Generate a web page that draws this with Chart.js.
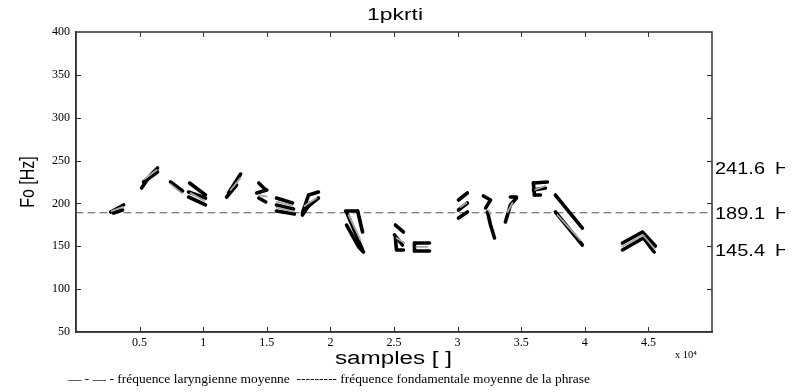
<!DOCTYPE html>
<html>
<head>
<meta charset="utf-8">
<script src="https://cdn.jsdelivr.net/npm/chart.js@4"></script>
<style>
  body { margin: 0; background: #fff; }
  #wrap { width: 807px; height: 392px; }
</style>
</head>
<body>
<div id="wrap"><canvas id="f0Chart"></canvas></div>
<script>
// x in samples x 10^4, y in Hz
const xTicks = [0.5, 1, 1.5, 2, 2.5, 3, 3.5, 4, 4.5];
const yTicks = [50, 100, 150, 200, 250, 300, 350, 400];
const meanF0 = 189.1;
const levelLabels = [241.6, 189.1, 145.4];

// F0 contour pieces (dark strokes)
const blackStrokes = [
  [[0.272, 190], [0.374, 198.2]],
  [[0.295, 188.8], [0.366, 192.3]],
  [[0.516, 218], [0.586, 233.2], [0.641, 241.3]],
  [[0.531, 225], [0.641, 236.7]],
  [[0.743, 225], [0.838, 214.5]],
  [[0.893, 223.8], [1.018, 209.8]],
  [[0.885, 213.3], [1.018, 206.3]],
  [[0.885, 207.5], [1.018, 198.2]],
  [[1.199, 212.2], [1.294, 234.3]],
  [[1.184, 207.5], [1.262, 221.5]],
  [[1.437, 223.8], [1.492, 215.7]],
  [[1.421, 212.2], [1.5, 215.7]],
  [[1.437, 206.3], [1.492, 201.7]],
  [[1.576, 206.3], [1.702, 200.5]],
  [[1.576, 198.2], [1.71, 193.5]],
  [[1.576, 191.2], [1.717, 187.7]],
  [[1.78, 188.8], [1.828, 209.8], [1.906, 213.3]],
  [[1.788, 192.3], [1.906, 206.3]],
  [[1.78, 186.5], [1.844, 200.5]],
  [[2.119, 191.2], [2.214, 191.2]],
  [[2.127, 190], [2.206, 162], [2.253, 145.7]],
  [[2.214, 191.2], [2.253, 166.7]],
  [[2.127, 174.8], [2.222, 149.2], [2.26, 143.3]],
  [[2.511, 174.8], [2.574, 166.7]],
  [[2.503, 163.2], [2.566, 151.5]],
  [[2.511, 160], [2.519, 145.7], [2.574, 145.7]],
  [[2.661, 153.8], [2.779, 153.8]],
  [[2.661, 144.5], [2.779, 144.5]],
  [[2.661, 144.5], [2.661, 153.8]],
  [[3.007, 204], [3.077, 212.2]],
  [[3.007, 192.3], [3.077, 200.5]],
  [[3.007, 183], [3.077, 190]],
  [[3.203, 208.7], [3.259, 204], [3.22, 194.7]],
  [[3.235, 190], [3.259, 174.8], [3.29, 159.7]],
  [[3.376, 178.3], [3.415, 198.2], [3.463, 206.3]],
  [[3.415, 207.5], [3.463, 207.5]],
  [[3.596, 223.8], [3.706, 225]],
  [[3.596, 215.7], [3.69, 218]],
  [[3.604, 209.8], [3.651, 209.8]],
  [[3.596, 223.8], [3.604, 209.8]],
  [[3.769, 209.8], [3.981, 171.3]],
  [[3.769, 190], [3.981, 151.5]],
  [[4.296, 153.8], [4.453, 166.7], [4.555, 150.3]],
  [[4.296, 145.7], [4.461, 159.7], [4.545, 143.3]]
];

// lighter estimates drawn over the dark ones
const grayStrokes = [
  [[0.28, 191], [0.37, 196]],
  [[0.539, 228.5], [0.633, 239]],
  [[0.743, 222.5], [0.83, 212]],
  [[0.9, 212], [1.01, 203]],
  [[1.215, 215.7], [1.294, 229.8]],
  [[1.44, 209.8], [1.5, 208]],
  [[1.58, 202], [1.7, 197]],
  [[1.58, 195], [1.71, 190.5]],
  [[1.796, 197], [1.891, 206.3]],
  [[2.143, 186.5], [2.237, 157.3]],
  [[2.519, 159.7], [2.582, 153.8]],
  [[2.677, 149.2], [2.763, 149.2]],
  [[3.022, 195.8], [3.069, 200.5]],
  [[3.243, 192], [3.259, 188]],
  [[3.392, 190], [3.431, 200.5]],
  [[3.611, 216], [3.69, 220.3]],
  [[3.785, 186.5], [3.966, 157.3]],
  [[4.296, 149.7], [4.457, 163.2], [4.55, 146.8]]
];

const toPoints = s => s.map(p => ({ x: p[0], y: p[1] }));

const datasets = [];
datasets.push({
  data: [{ x: 0, y: meanF0 }, { x: 5, y: meanF0 }],
  borderColor: "#555",
  borderWidth: 1,
  borderDash: [7, 5],
  order: 3
});
blackStrokes.forEach(s => datasets.push({
  data: toPoints(s),
  borderColor: "#000",
  borderWidth: 3.6,
  order: 2
}));
grayStrokes.forEach(s => datasets.push({
  data: toPoints(s),
  borderColor: "#a8a8a8",
  borderWidth: 1.8,
  order: 1
}));

const sans = "'Liberation Sans', Arial, sans-serif";
const serif = "'Liberation Serif', 'Times New Roman', serif";

// the original image is stretched sideways, so text is squeezed into a width
function fitText(ctx, text, left, y, width) {
  const w = ctx.measureText(text).width;
  ctx.save();
  ctx.translate(left, y);
  ctx.scale(width / w, 1);
  ctx.textAlign = "left";
  ctx.fillText(text, 0, 0);
  ctx.restore();
}

const decorations = {
  id: "decorations",
  afterDraw(chart) {
    const ctx = chart.ctx;
    const a = chart.chartArea;
    const xs = chart.scales.x, ys = chart.scales.y;
    ctx.save();
    // frame
    ctx.strokeStyle = "#333";
    ctx.lineWidth = 1.5;
    ctx.strokeRect(a.left, a.top, a.right - a.left, a.bottom - a.top);
    // inward ticks
    ctx.lineWidth = 1;
    ctx.beginPath();
    xTicks.forEach(v => {
      const px = Math.round(xs.getPixelForValue(v)) + 0.5;
      ctx.moveTo(px, a.bottom); ctx.lineTo(px, a.bottom - 5);
      ctx.moveTo(px, a.top); ctx.lineTo(px, a.top + 5);
    });
    yTicks.slice(1, -1).forEach(v => {
      const py = Math.round(ys.getPixelForValue(v)) + 0.5;
      ctx.moveTo(a.left, py); ctx.lineTo(a.left + 5, py);
      ctx.moveTo(a.right, py); ctx.lineTo(a.right - 5, py);
    });
    ctx.stroke();

    ctx.fillStyle = "#000";
    ctx.textBaseline = "middle";
    ctx.font = "16px " + sans;
    fitText(ctx, "1pkrti", 367, 16, 56);
    ctx.font = "18px " + sans;
    fitText(ctx, "samples [ ]", 335, 359, 117);
    ctx.font = "10px " + serif;
    fitText(ctx, "x 10\u2074", 675, 355, 22);
    // y title, widened like the rest of the text
    ctx.save();
    ctx.translate(28, (a.top + a.bottom) / 2);
    ctx.rotate(-Math.PI / 2);
    ctx.scale(1, 1.3);
    ctx.font = "16px " + sans;
    ctx.textAlign = "center";
    ctx.fillText("Fo [Hz]", 0, 0);
    ctx.restore();
    // level labels on the right, clipped like the original
    ctx.save();
    ctx.beginPath();
    ctx.rect(0, 0, 785, 392);
    ctx.clip();
    ctx.font = "17px " + sans;
    levelLabels.forEach(v => {
      const py = ys.getPixelForValue(v) + 1.5;
      fitText(ctx, v.toFixed(1), 715, py, 50);
      fitText(ctx, "Hz", 775, py, 24);
    });
    ctx.restore();
    // footer note
    ctx.font = "12px " + serif;
    fitText(ctx, "\u2014 - \u2014 - fr\u00e9quence laryngienne moyenne  --------- fr\u00e9quence fondamentale moyenne de la phrase", 68, 380, 522);
    ctx.restore();
  }
};

new Chart(document.getElementById("f0Chart"), {
  type: "scatter",
  data: { datasets: datasets },
  options: {
    responsive: true,
    maintainAspectRatio: false,
    animation: false,
    showLine: true,
    elements: {
      point: { radius: 0, hoverRadius: 0 },
      line: { tension: 0, borderCapStyle: "round", borderJoinStyle: "round" }
    },
    layout: { padding: { top: 32, right: 95, left: 0, bottom: 0 } },
    plugins: {
      legend: { display: false },
      title: { display: false },
      tooltip: { enabled: false }
    },
    scales: {
      x: {
        type: "linear",
        min: 0,
        max: 5,
        afterFit: s => { s.height = 60; },
        afterBuildTicks: s => { s.ticks = xTicks.map(v => ({ value: v })); },
        grid: { drawOnChartArea: false, drawTicks: false },
        border: { color: "#333", width: 1.5 },
        ticks: {
          padding: 4,
          color: "#000",
          font: { family: serif, size: 12 },
          callback: v => String(v)
        }
      },
      y: {
        min: 50,
        max: 400,
        afterFit: s => { s.width = 76; },
        afterBuildTicks: s => { s.ticks = yTicks.map(v => ({ value: v })); },
        grid: { drawOnChartArea: false, drawTicks: false },
        border: { color: "#333", width: 1.5 },
        ticks: {
          padding: 6,
          color: "#000",
          font: { family: serif, size: 12 }
        }
      }
    }
  },
  plugins: [decorations]
});
</script>
</body>
</html>
